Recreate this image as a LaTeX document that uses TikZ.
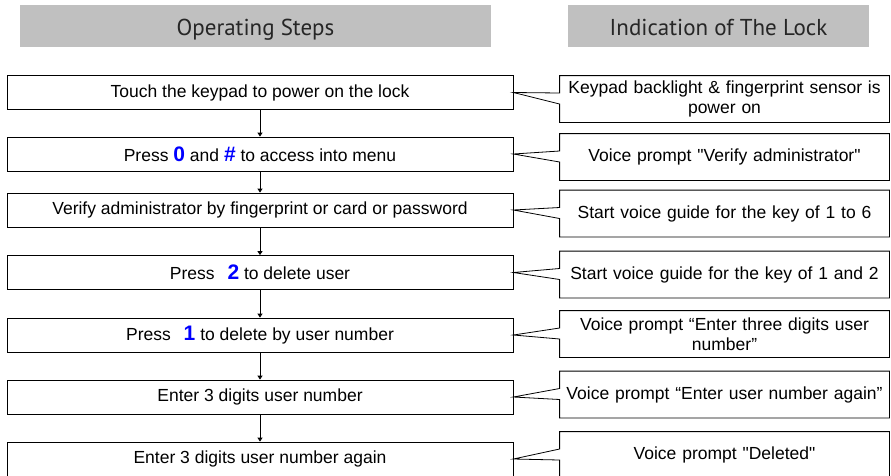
\documentclass[tikz,border=0pt]{standalone}
\usepackage{fontspec}
\setmainfont{Liberation Sans}
\newfontfamily\headfont{PT Sans}
\usetikzlibrary{arrows.meta}

\definecolor{keyblue}{RGB}{0,0,255}
\definecolor{headgray}{RGB}{192,192,192}
\newcommand{\keynum}[1]{{\fontsize{21pt}{21pt}\selectfont\bfseries\color{keyblue}#1}}

\begin{document}
\begin{tikzpicture}[x=1pt,y=-1pt,line width=.8pt,
    font=\fontsize{17.5pt}{20pt}\selectfont,
    header/.style={fill=headgray, inner sep=0pt, text height=30pt, text depth=12pt,
      font=\headfont\fontsize{23pt}{25pt}\selectfont, text=black!85},
    opstep/.style={draw, minimum width=506pt, minimum height=34pt, inner sep=0pt},
    lockmsg/.style={text width=320pt, inner xsep=4.5pt, inner ysep=0pt,
      minimum height=46pt, align=center}]

  \useasboundingbox (0,0) rectangle (891,475);

  % column titles
  \node[header, minimum width=471pt] (h1) at (255.5,26) {Operating Steps};
  \node[header, minimum width=301pt] (h2) at (718.5,26) {Indication of The Lock};

  \begin{scope}[every node/.style={opstep}]
    \node (s1) at (260,92.5) {Touch the keypad to power on the lock};
    \node (s2) at (260,154)  {Press \keynum{0} and \keynum{\#} to access into menu};
    \node (s3) at (260,210)  {Verify administrator by fingerprint or card or password};
    \node (s4) at (260,272.5) {Press\hspace{8pt} \keynum{2} to delete user};
    \node (s5) at (260,335)  {Press\hspace{8pt} \keynum{1} to delete by user number};
    \node (s6) at (260,397)  {Enter 3 digits user number};
    \node (s7) at (260,459)  {Enter 3 digits user number again};
  \end{scope}

  \begin{scope}[every node/.style={lockmsg}]
    \node (i1) at (724.5,99)   {Keypad backlight \& fingerprint sensor is\\power on};
    \node (i2) at (724.5,157)  {Voice prompt \textquotedbl Verify administrator\textquotedbl};
    \node (i3) at (724.5,213.5) {Start voice guide for the key of 1 to 6};
    \node (i4) at (724.5,274.5) {Start voice guide for the key of 1 and 2};
    \node (i5) at (724.5,334)  {Voice prompt “Enter three digits user\\number”};
    \node (i6) at (724.5,394.5) {Voice prompt “Enter user number again”};
    \node (i7) at (724.5,455)  {Voice prompt \textquotedbl Deleted\textquotedbl};
  \end{scope}

  % flow arrows
  \foreach \i/\j in {1/2,2/3,3/4,4/5,5/6,6/7}
    \draw[-{Triangle[length=4pt,width=5pt]}] (s\i) -- (s\j);

  % callout outlines
  \foreach \i in {1,...,7}
    \draw (i\i.north west) -- (i\i.north east) -- (i\i.south east)
      -- (i\i.south west) -- ([yshift=-5pt]i\i.west) -- (s\i.east)
      -- ([yshift=6pt]i\i.west) -- cycle;

\end{tikzpicture}
\end{document}
